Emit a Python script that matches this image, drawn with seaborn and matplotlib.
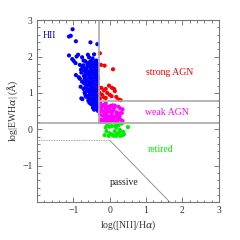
import pandas as pd
import matplotlib
matplotlib.use("Agg")
from matplotlib import pyplot as plt
from matplotlib.ticker import MultipleLocator
import seaborn as sns

# WHAN diagram: log([NII]/Ha) vs log|EW Ha|
hii_x = [-1.02, -1.12, -1.07, -0.93, -0.53, -0.34, -1.12, -1.03, -0.99, -0.87,
         -0.91, -0.94, -0.76, -0.72, -0.60, -0.57, -0.47, -0.43, -0.50, -0.37,
         -0.82, -0.79, -0.93, -0.82,
         -0.67, -0.57, -0.52, -0.44, -0.41, -0.35,
         -0.72, -0.61, -0.56, -0.49, -0.42, -0.36, -0.32,
         -0.75, -0.66, -0.61, -0.52, -0.48, -0.40, -0.35,
         -0.69, -0.65, -0.56, -0.51, -0.44, -0.39, -0.33,
         -0.78, -0.67, -0.62, -0.54, -0.46, -0.42, -0.36,
         -0.71, -0.66, -0.58, -0.53, -0.45, -0.38, -0.33,
         -0.85, -0.69, -0.63, -0.55, -0.50, -0.43, -0.37, -0.32,
         -0.76, -0.66, -0.60, -0.52, -0.47, -0.40, -0.34,
         -0.70, -0.64, -0.56, -0.51, -0.44, -0.37, -0.33,
         -0.80, -0.67, -0.61, -0.53, -0.48, -0.41, -0.35,
         -0.72, -0.65, -0.57, -0.50, -0.45, -0.39, -0.33,
         -0.69, -0.62, -0.54, -0.49, -0.42, -0.37, -0.32,
         -0.67, -0.58, -0.53, -0.46, -0.41, -0.34,
         -0.78, -0.63, -0.55, -0.48, -0.43, -0.38, -0.31,
         -0.75, -0.59, -0.52, -0.47, -0.40, -0.34,
         -0.66, -0.56, -0.49, -0.43, -0.38, -0.33,
         -0.51, -0.45, -0.41, -0.35, -0.31,
         -0.46, -0.40, -0.36, -0.32,
         -0.43, -0.37, -0.33]
hii_y = [2.75, 2.55, 2.57, 2.42, 2.39, 2.34, 2.03, 1.93, 1.88, 2.05,
         2.00, 1.82, 1.98, 1.89, 2.05, 1.98, 1.95, 2.06, 1.86, 1.89,
         1.77, 1.64, 1.49, 1.39,
         1.87, 1.83, 1.88, 1.82, 1.86, 1.81,
         1.76, 1.80, 1.75, 1.79, 1.74, 1.78, 1.77,
         1.71, 1.67, 1.72, 1.68, 1.73, 1.67, 1.70,
         1.61, 1.65, 1.60, 1.64, 1.59, 1.65, 1.62,
         1.56, 1.52, 1.57, 1.53, 1.58, 1.52, 1.55,
         1.47, 1.45, 1.50, 1.46, 1.51, 1.45, 1.48,
         1.43, 1.39, 1.37, 1.42, 1.38, 1.43, 1.37, 1.40,
         1.31, 1.35, 1.30, 1.34, 1.29, 1.35, 1.32,
         1.26, 1.22, 1.27, 1.23, 1.28, 1.22, 1.25,
         1.17, 1.15, 1.20, 1.16, 1.21, 1.15, 1.18,
         1.11, 1.13, 1.08, 1.12, 1.07, 1.13, 1.10,
         1.01, 1.05, 1.00, 1.04, 0.99, 1.05, 1.02,
         0.96, 0.92, 0.97, 0.93, 0.98, 0.92,
         0.85, 0.89, 0.84, 0.88, 0.90, 0.85, 0.88,
         0.83, 0.79, 0.83, 0.78, 0.82, 0.77,
         0.91, 0.73, 0.77, 0.72, 0.76, 0.71,
         0.69, 0.65, 0.70, 0.66, 0.64,
         0.59, 0.63, 0.58, 0.61,
         0.54, 0.56, 0.51]

sagn_x = [-0.27, -0.24, -0.14, 0.09, -0.28, -0.23, -0.02, -0.11, -0.16, 0.06,
          0.12, -0.21, -0.28, -0.07, 0.00, -0.16, -0.11, 0.05, 0.18, 0.24,
          0.30, -0.27, 0.14]
sagn_y = [2.09, 1.77, 1.75, 1.65, 1.14, 1.14, 1.20, 1.11, 1.07, 1.14,
          1.11, 0.95, 1.00, 1.00, 0.95, 0.88, 0.86, 0.91, 0.89, 0.82,
          0.80, 0.85, 1.05]

wagn_x = [-0.27, -0.23, -0.17, -0.11, -0.06, 0.02, 0.14, 0.24, 0.29, 0.35,
          -0.26, -0.18, -0.11, -0.02, 0.09, 0.18, 0.25,
          -0.27, -0.20, -0.13, -0.05, 0.05, 0.14, 0.23, 0.29, 0.35,
          -0.25, -0.16, -0.07, 0.02, 0.11, 0.20, 0.32,
          -0.26, -0.17, -0.09, 0.00, 0.09,
          -0.22, -0.08, 0.06, 0.12, -0.15, 0.18, 0.27, -0.02, 0.33, -0.28,
          0.00, 0.22, 0.08, -0.12]
wagn_y = [0.73, 0.64, 0.67, 0.71, 0.62, 0.64, 0.65, 0.62, 0.57, 0.55,
          0.55, 0.50, 0.55, 0.50, 0.53, 0.47, 0.44,
          0.41, 0.38, 0.41, 0.36, 0.38, 0.34, 0.32, 0.27, 0.23,
          0.27, 0.25, 0.29, 0.25, 0.23, 0.20, 0.17,
          0.20, 0.20, 0.21, 0.31, 0.29,
          0.60, 0.45, 0.45, 0.58, 0.32, 0.38, 0.36, 0.57, 0.45, 0.48,
          0.20, 0.26, 0.66, 0.62]

ret_x = [-0.07, -0.11, 0.00, 0.14, 0.18, 0.24, 0.33, 0.50, 0.14, -0.14,
         0.00, 0.05, 0.09, 0.20, 0.26, 0.29, 0.35, 0.39, 0.11, -0.03,
         0.18, 0.17, 0.05, -0.09, 0.28, 0.37]
ret_y = [0.11, 0.05, 0.07, 0.09, 0.05, 0.11, 0.16, 0.06, -0.05, -0.16,
         -0.11, -0.14, -0.16, -0.13, -0.09, -0.18, -0.16, -0.14, -0.18, -0.18,
         -0.18, 0.11, 0.09, -0.05, -0.02, -0.07]

classes = ["HII", "strong AGN", "weak AGN", "retired"]
colors = ["#0000ff", "#ff0000", "#ff00ff", "#00ee00"]

df = pd.concat([
    pd.DataFrame({"x": hii_x, "y": hii_y, "cls": "HII"}),
    pd.DataFrame({"x": sagn_x, "y": sagn_y, "cls": "strong AGN"}),
    pd.DataFrame({"x": wagn_x, "y": wagn_y, "cls": "weak AGN"}),
    pd.DataFrame({"x": ret_x, "y": ret_y, "cls": "retired"}),
], ignore_index=True)

sns.set_style("ticks")
plt.rcParams["font.family"] = ["Liberation Serif", "DejaVu Serif"]
plt.rcParams["mathtext.fontset"] = "dejavuserif"

fig = plt.figure(figsize=(2.4, 2.4), dpi=100)
ax = fig.add_axes([0.154, 0.158, 0.758, 0.758])

sns.scatterplot(data=df, x="x", y="y", hue="cls", hue_order=classes,
                palette=colors, s=9, linewidth=0, legend=False, ax=ax)

# class borders
lc = "#aaaaaa"
ax.plot([-0.3, -0.3], [0.18, 3], color=lc, lw=1.2, zorder=1)
ax.plot([-0.3, 3], [0.78, 0.78], color=lc, lw=1.2, zorder=1)
ax.plot([-2, 3], [0.18, 0.18], color=lc, lw=1.2, zorder=1)
ax.plot([-2, 0], [-0.3, -0.3], color="#888888", lw=0.6, ls=(0, (1, 1)), zorder=1)
ax.plot([0, 1.65], [-0.3, -2], color="#888888", lw=0.6, zorder=1)

ax.text(-1.65, 2.57, "HII", color="#0000ff", fontsize=7, ha="center", va="center")
ax.text(1.65, 1.56, "strong AGN", color="#ff0000", fontsize=7, ha="center", va="center")
ax.text(1.56, 0.45, "weak AGN", color="#ff00ff", fontsize=7, ha="center", va="center")
ax.text(1.4, -0.55, "retired", color="#00ee00", fontsize=7, ha="center", va="center")
ax.text(0.41, -1.45, "passive", color="#222222", fontsize=7, ha="center", va="center")

ax.set_xlim(-2, 3)
ax.set_ylim(-2, 3)
ax.set_xticks([-1, 0, 1, 2, 3])
ax.set_yticks([-1, 0, 1, 2, 3])
ax.xaxis.set_minor_locator(MultipleLocator(0.2))
ax.yaxis.set_minor_locator(MultipleLocator(0.2))
ax.tick_params(which="both", direction="in", top=True, right=True,
               color="#666666", labelsize=7, labelcolor="#333333", width=0.6, pad=3)
ax.tick_params(which="major", length=3.5)
ax.tick_params(which="minor", length=1.8)
for sp in ax.spines.values():
    sp.set_color("#777777")
    sp.set_linewidth(0.8)

ax.set_xlabel("log([NII]/H$\\alpha$)", fontsize=7, color="#333333", labelpad=2)
ax.set_ylabel("log|EWH$\\alpha$| ($\\mathrm{\\AA}$)", fontsize=7, color="#333333", labelpad=2)

fig.savefig("out.png", dpi=100)
